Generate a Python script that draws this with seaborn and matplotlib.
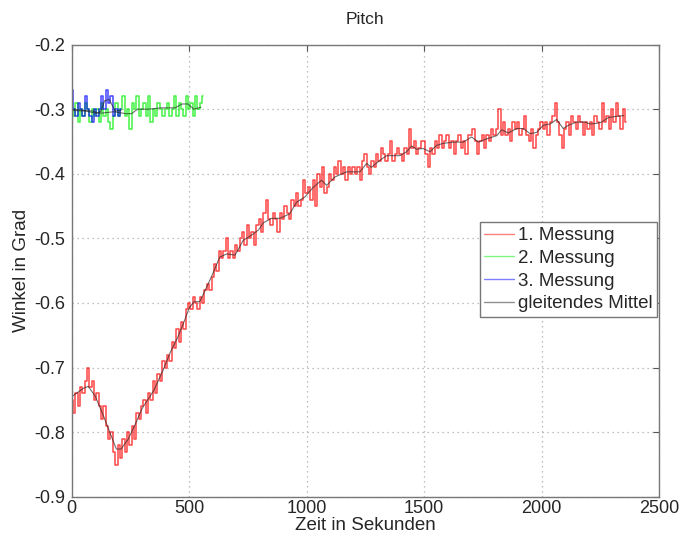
import numpy as np
import pandas as pd
import matplotlib
matplotlib.use("Agg")
import matplotlib.pyplot as plt
import seaborn as sns

# ---- data ----
red_t0, red_dt = 0, 10
red_vals = [
    -0.75, -0.77, -0.74, -0.76, -0.73, -0.74, -0.72, -0.70, -0.73, -0.72,
    -0.75, -0.74, -0.76, -0.78, -0.76, -0.79, -0.81, -0.80, -0.83, -0.85,
    -0.82, -0.84, -0.81, -0.83, -0.80, -0.82, -0.79, -0.81, -0.77, -0.78,
    -0.76, -0.75, -0.77, -0.74, -0.75, -0.72, -0.74, -0.71, -0.72, -0.69,
    -0.70, -0.68, -0.69, -0.66, -0.67, -0.64, -0.66, -0.63, -0.64, -0.61,
    -0.60, -0.61, -0.59, -0.60, -0.61, -0.59, -0.60, -0.58, -0.57, -0.58,
    -0.56, -0.54, -0.55, -0.52, -0.53, -0.52, -0.50, -0.53, -0.52, -0.53,
    -0.51, -0.52, -0.50, -0.49, -0.51, -0.48, -0.50, -0.49, -0.51, -0.48,
    -0.47, -0.49, -0.46, -0.44, -0.47, -0.48, -0.46, -0.47, -0.49, -0.46,
    -0.47, -0.45, -0.46, -0.47, -0.44, -0.45, -0.43, -0.45, -0.44, -0.41,
    -0.43, -0.42, -0.44, -0.41, -0.45, -0.40, -0.42, -0.39, -0.43, -0.42,
    -0.40, -0.41, -0.39, -0.40, -0.38, -0.40, -0.39, -0.41, -0.39, -0.40,
    -0.39, -0.40, -0.39, -0.41, -0.38, -0.37, -0.39, -0.40, -0.38, -0.39,
    -0.37, -0.38, -0.36, -0.37, -0.38, -0.37, -0.35, -0.38, -0.37, -0.36,
    -0.37, -0.38, -0.36, -0.37, -0.33, -0.36, -0.35, -0.37, -0.36, -0.35,
    -0.35, -0.37, -0.39, -0.36, -0.37, -0.35, -0.36, -0.34, -0.36, -0.35,
    -0.34, -0.36, -0.35, -0.37, -0.35, -0.34, -0.36, -0.35, -0.37, -0.34,
    -0.34, -0.33, -0.35, -0.37, -0.35, -0.34, -0.36, -0.34, -0.35, -0.33,
    -0.34, -0.33, -0.30, -0.34, -0.32, -0.34, -0.33, -0.35, -0.32, -0.33,
    -0.32, -0.34, -0.33, -0.31, -0.34, -0.35, -0.33, -0.36, -0.34, -0.33,
    -0.32, -0.33, -0.32, -0.34, -0.32, -0.31, -0.29, -0.32, -0.34, -0.36,
    -0.33, -0.32, -0.34, -0.31, -0.32, -0.33, -0.31, -0.32, -0.34, -0.32,
    -0.33, -0.32, -0.34, -0.31, -0.32, -0.33, -0.29, -0.32, -0.31, -0.33,
    -0.30, -0.32, -0.29, -0.31, -0.33, -0.30, -0.32,
]

green_t0, green_dt = 0, 10
green_vals = [
    -0.30, -0.31, -0.29, -0.32, -0.30, -0.31, -0.29, -0.30, -0.32, -0.30,
    -0.31, -0.30, -0.32, -0.29, -0.31, -0.30, -0.32, -0.33, -0.31, -0.29,
    -0.31, -0.30, -0.28, -0.31, -0.30, -0.33, -0.29, -0.30, -0.28, -0.31,
    -0.30, -0.29, -0.31, -0.28, -0.32, -0.30, -0.31, -0.29, -0.30, -0.31,
    -0.30, -0.29, -0.31, -0.30, -0.28, -0.31, -0.29, -0.30, -0.31, -0.28,
    -0.30, -0.29, -0.31, -0.28, -0.30, -0.29, -0.28,
]

blue_t0, blue_dt = 0, 10
blue_vals = [
    -0.27, -0.30, -0.31, -0.29, -0.30, -0.31, -0.28, -0.30, -0.31, -0.32,
    -0.30, -0.31, -0.30, -0.28, -0.30, -0.27, -0.29, -0.28, -0.31, -0.30,
    -0.31, -0.30,
]

avg_red_t = [0, 50, 70, 100, 130, 160, 190, 210, 240, 270, 300, 350, 390, 420,
             450, 475, 500, 520, 545, 575, 600, 630, 660, 695, 715, 730, 765,
             795, 815, 850, 886, 928, 957, 992, 1028, 1063, 1085, 1120, 1170,
             1227, 1255, 1276, 1312, 1340, 1397, 1425, 1447, 1468, 1496, 1525,
             1553, 1581, 1624, 1667, 1702, 1731, 1766, 1809, 1830, 1858, 1894,
             1922, 1951, 1979, 2007, 2036, 2064, 2092, 2114, 2149, 2185, 2206,
             2235, 2256, 2284, 2320, 2350]
avg_red_v = [-0.745, -0.732, -0.729, -0.744, -0.770, -0.798, -0.826, -0.826,
             -0.811, -0.788, -0.763, -0.735, -0.703, -0.676, -0.654, -0.632,
             -0.608, -0.598, -0.598, -0.575, -0.555, -0.529, -0.524, -0.526,
             -0.513, -0.503, -0.495, -0.487, -0.476, -0.469, -0.469, -0.462,
             -0.444, -0.436, -0.421, -0.410, -0.418, -0.405, -0.397, -0.397,
             -0.384, -0.390, -0.379, -0.372, -0.372, -0.366, -0.357, -0.362,
             -0.361, -0.366, -0.356, -0.353, -0.351, -0.351, -0.343, -0.351,
             -0.346, -0.341, -0.332, -0.337, -0.330, -0.330, -0.338, -0.336,
             -0.325, -0.323, -0.316, -0.330, -0.325, -0.320, -0.320, -0.323,
             -0.322, -0.320, -0.313, -0.311, -0.310]

avg_green_t = [0, 60, 100, 130, 180, 230, 255, 280, 330, 380, 440, 470, 495, 520, 550]
avg_green_v = [-0.302, -0.303, -0.306, -0.306, -0.304, -0.307, -0.307, -0.300,
               -0.300, -0.298, -0.298, -0.292, -0.292, -0.300, -0.297]

avg_blue_t = [5, 50, 90, 110, 125, 140, 160, 172, 185, 210]
avg_blue_v = [-0.300, -0.302, -0.303, -0.306, -0.303, -0.287, -0.285, -0.294,
              -0.303, -0.302]

x_ticks = [0, 500, 1000, 1500, 2000, 2500]
y_ticks = [-0.9, -0.8, -0.7, -0.6, -0.5, -0.4, -0.3, -0.2]
legend_labels = ["1. Messung", "2. Messung", "3. Messung", "gleitendes Mittel"]

# ---- figure ----
sns.set_style("white")
plt.rcParams['font.family'] = ['Liberation Sans', 'DejaVu Sans']

fig = plt.figure(figsize=(6.83, 5.43), dpi=100)
ax = fig.add_axes([0.105, 0.085, 0.86, 0.833])

def series_t(t0, dt, vals):
    return t0 + dt * np.arange(len(vals))

red_t = series_t(red_t0, red_dt, red_vals)
green_t = series_t(green_t0, green_dt, green_vals)
blue_t = series_t(blue_t0, blue_dt, blue_vals)

raw_kw = dict(alpha=0.7, linewidth=1.15, estimator=None, drawstyle="steps-mid")
sns.lineplot(x=red_t, y=red_vals, ax=ax, color="#ff0000",
             label=legend_labels[0], **raw_kw)
sns.lineplot(x=green_t, y=green_vals, ax=ax, color="#00ee00",
             label=legend_labels[1], **raw_kw)
sns.lineplot(x=blue_t, y=blue_vals, ax=ax, color="#0000ff",
             label=legend_labels[2], **raw_kw)
avg_kw = dict(color="#222222", alpha=0.65, linewidth=0.8, estimator=None)
sns.lineplot(x=avg_red_t, y=avg_red_v, ax=ax, label=legend_labels[3], **avg_kw)
sns.lineplot(x=avg_green_t, y=avg_green_v, ax=ax, **avg_kw)
sns.lineplot(x=avg_blue_t, y=avg_blue_v, ax=ax, **avg_kw)

ax.set_xlim(0, 2500)
ax.set_ylim(-0.9, -0.2)
ax.set_xticks(x_ticks)
ax.set_yticks(y_ticks)
ax.set_xticklabels([f"{v:g}" for v in x_ticks])
ax.set_yticklabels([f"{v:g}" for v in y_ticks])
ax.tick_params(direction="in", length=4, width=0.8, color="#555555",
               labelsize=13, top=True, right=True)
ax.tick_params(axis="y", pad=5)
ax.tick_params(axis="x", pad=2)
for s in ax.spines.values():
    s.set_visible(True)
    s.set_color("#777777")
    s.set_linewidth(1.0)
ax.grid(True, linestyle=(0, (1, 3)), color="#aaaaaa", linewidth=0.9)

ax.set_title("Pitch", fontsize=12.5, pad=15)
ax.set_xlabel("Zeit in Sekunden", fontsize=13.5, labelpad=0)
ax.set_ylabel("Winkel in Grad", fontsize=13.5, labelpad=3)

leg = ax.legend(loc="upper right", bbox_to_anchor=(0.997, 0.607),
                borderaxespad=0, fontsize=13.5, handlelength=1.6,
                handletextpad=0.2, labelspacing=0.3, borderpad=0.25,
                fancybox=False, framealpha=1, edgecolor="#777777")
leg.get_frame().set_linewidth(1.0)
for h in leg.get_lines():
    h.set_linewidth(1.0)
    h.set_alpha(0.5)

fig.savefig("out.png", dpi=100)
